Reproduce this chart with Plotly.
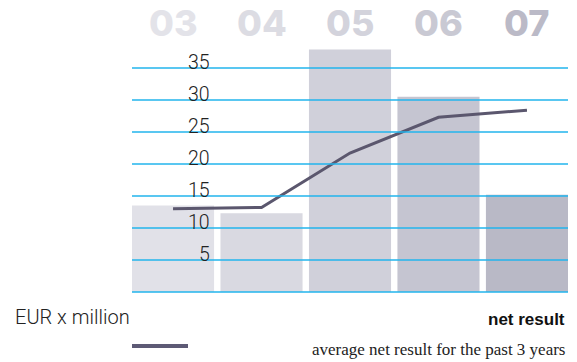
import plotly.graph_objects as go

# ---- data ----
years = ["03", "04", "05", "06", "07"]
net_result = [13.5, 12.3, 37.9, 30.5, 15.2]
avg_3y = [13.0, 13.2, 21.7, 27.3, 28.4]
tick_vals = [0, 5, 10, 15, 20, 25, 30, 35]
tick_labels = ["", "5", "10", "15", "20", "25", "30", "35"]
bar_colors = ["#e1e1e8", "#d9d9e1", "#d0d0da", "#c5c5d1", "#b9b9c6"]
label_colors = ["#e3e3e9", "#dcdce3", "#d3d3dc", "#c9c9d3", "#bbbac7"]

W, H = 577, 362
ML, MR, MT, MB = 132, 9, 48, 69
PW, PH = W - ML - MR, H - MT - MB
YMIN, YMAX = -0.16, 38.12
Y0PX = 292.0  # pixel row of value 0

def py(px):
    """paper y for a pixel row"""
    return (H - MB - px) / PH

fig = go.Figure()

fig.add_trace(go.Bar(
    x=years, y=net_result, marker=dict(color=bar_colors, line=dict(width=0)),
    hoverinfo="skip", showlegend=False,
))

# gridlines (drawn above bars, below the average line)
gx, gy = [], []
for v in tick_vals:
    gx += [0, 1, None]
    gy += [v, v, None]
fig.add_trace(go.Scatter(
    x=gx, y=gy, xaxis="x2", yaxis="y", mode="lines",
    line=dict(color="#22b4ec", width=1.6), hoverinfo="skip", showlegend=False,
))

fig.add_trace(go.Scatter(
    x=years, y=avg_3y, mode="lines",
    line=dict(color="#5b576e", width=3), hoverinfo="skip", showlegend=False,
))

light = "Roboto, Liberation Sans, Arial"
annotations = []
# top year labels
for i, (yr, c) in enumerate(zip(years, label_colors)):
    annotations.append(dict(
        x=i, xref="x", y=py(23), yref="paper",
        text=yr, showarrow=False, xanchor="center", yanchor="middle",
        font=dict(family="Inter, Liberation Sans, Arial", size=36, color=c, weight=800),
    ))
# y tick labels
for v, t in zip(tick_vals, tick_labels):
    if not t:
        continue
    annotations.append(dict(
        x=(212 - ML) / PW, xref="paper", y=v, yref="y", yshift=5,
        text=t, showarrow=False, xanchor="right", yanchor="middle",
        font=dict(family=light, size=19.5, color="#222222", weight=300),
    ))
# bottom texts
annotations.append(dict(
    x=(13 - ML) / PW, xref="paper", y=py(316.5), yref="paper",
    text="EUR x million", showarrow=False, xanchor="left", yanchor="middle",
    font=dict(family=light, size=20, color="#222222", weight=300),
))
annotations.append(dict(
    x=(567 - ML) / PW, xref="paper", y=py(319), yref="paper",
    text="<b>net result</b>", showarrow=False, xanchor="right", yanchor="middle",
    font=dict(family="Liberation Sans, Arial", size=17, color="#111111"),
))
annotations.append(dict(
    x=(567 - ML) / PW, xref="paper", y=py(349), yref="paper",
    text="average net result for the past 3 years", showarrow=False,
    xanchor="right", yanchor="middle",
    font=dict(family="Liberation Serif, Times New Roman, serif", size=17, color="#222222"),
))

shapes = [dict(
    type="line", xref="paper", yref="paper",
    x0=(132 - ML) / PW, x1=(188 - ML) / PW,
    y0=py(346), y1=py(346),
    line=dict(color="#5d5a75", width=4),
)]

gap = 0.0724
fig.update_layout(
    width=W, height=H, autosize=False,
    margin=dict(l=ML, r=MR, t=MT, b=MB, pad=0),
    paper_bgcolor="white", plot_bgcolor="white",
    bargap=gap,
    xaxis=dict(type="category", categoryorder="array", categoryarray=years,
               range=[-0.5 + gap / 2, len(years) - 0.5 - gap / 2],
               showgrid=False, showticklabels=False, zeroline=False, showline=False,
               fixedrange=True),
    xaxis2=dict(overlaying="x", range=[0, 1], visible=False, fixedrange=True),
    yaxis=dict(range=[YMIN, YMAX], showgrid=False, showticklabels=False,
               zeroline=False, showline=False, fixedrange=True),
    annotations=annotations,
    shapes=shapes,
    showlegend=False,
)

fig.write_html("out.html")
